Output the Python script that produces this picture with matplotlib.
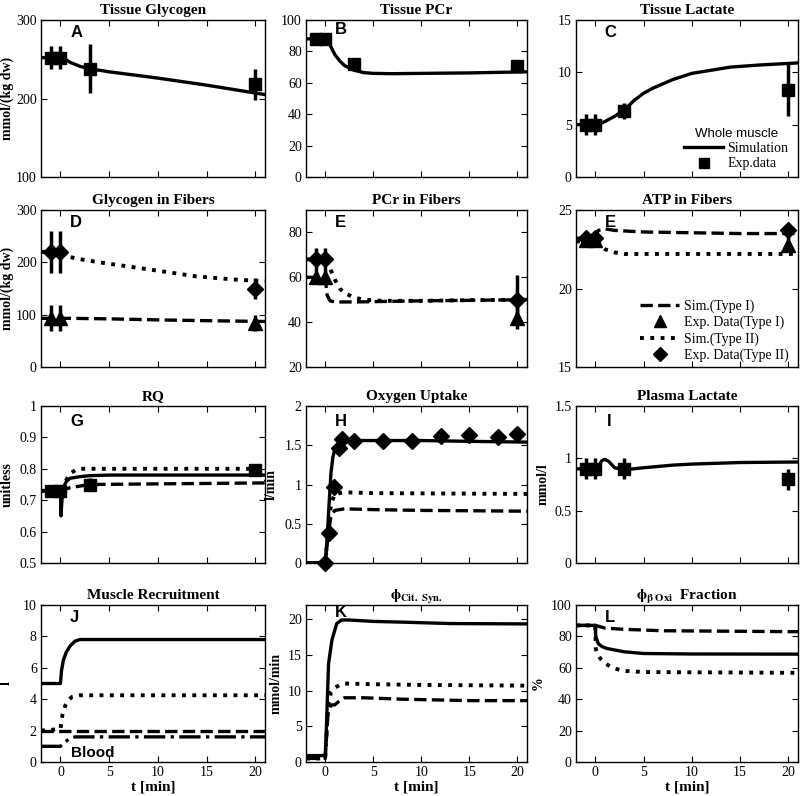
import matplotlib
matplotlib.use('Agg')
import matplotlib.pyplot as plt
import numpy as np

plt.rcParams['font.family'] = 'Liberation Serif'
plt.rcParams['mathtext.fontset'] = 'stix'

# ---- data ----
# A: tissue glycogen
tA_sim = [-2, 0, 0.5, 1, 2, 3, 5, 10, 15, 21]
yA_sim = [252, 252, 250, 246, 241, 238, 234, 226, 217, 205]
tA_exp = [-1, 0, 3, 20]
yA_exp = [252, 252, 238, 218]
eA_exp = [15, 15, 31, 20]

# B: tissue PCr
tB_sim = [-2, 0, 0.5, 1, 1.5, 2, 3, 4, 5, 7, 10, 15, 21]
yB_sim = [88, 88, 84, 78, 74, 71, 68, 66.5, 66, 65.8, 66, 66.3, 67]
tB_exp = [-1, 0, 3, 20]
yB_exp = [88, 88, 72, 71]
eB_exp = [2, 2, 3, 3]

# C: tissue lactate
tC_sim = [-2, 0, 0.5, 1, 2, 3, 4, 5, 6, 8, 10, 12, 14, 17, 21]
yC_sim = [5, 5, 5.1, 5.3, 5.8, 6.4, 7.3, 8.0, 8.5, 9.3, 9.9, 10.2, 10.5, 10.7, 10.9]
tC_exp = [-1, 0, 3, 20]
yC_exp = [5, 5, 6.3, 8.3]
eC_exp = [1, 1, 0.8, 2.5]

# D: glycogen in fibers
tD_sim2 = [-2, 0, 0.5, 1, 2, 4, 7, 10, 14, 18, 21]
yD_sim2 = [220, 220, 214, 210, 206, 200, 192, 184, 173, 167, 164]
tD_sim1 = [-2, 0, 1, 5, 10, 15, 21]
yD_sim1 = [93, 93, 93, 92, 90, 88.5, 87]
tD_exp = [-1, 0, 20]
yD_exp1 = [93, 93, 84]
eD_exp1 = [25, 25, 15]
yD_exp2 = [220, 220, 150]
eD_exp2 = [40, 40, 20]

# E: PCr in fibers
tE_sim2 = [-2, 0, 0.5, 1, 1.5, 2, 3, 4, 6, 10, 15, 21]
yE_sim2 = [68, 68, 64, 59, 55, 53, 51, 50, 49.5, 49.5, 49.8, 50]
tE_sim1 = [-2, 0, 0.2, 0.5, 1, 3, 10, 21]
yE_sim1 = [60, 60, 52, 49.5, 49, 49, 49.5, 50]
tE_exp = [-1, 0, 20]
yE_exp1 = [60, 60, 42]
eE_exp1 = [3, 3, 5]
yE_exp2 = [68, 68, 50]
eE_exp2 = [5, 5, 11]

# F: ATP in fibers
tF_sim1 = [-2, 0, 0.3, 1, 2, 5, 10, 15, 21]
yF_sim1 = [23.2, 23.2, 23.7, 23.8, 23.7, 23.6, 23.55, 23.5, 23.5]
tF_sim2 = [-2, 0, 0.5, 1, 2, 3, 5, 10, 21]
yF_sim2 = [23.0, 23.0, 22.7, 22.5, 22.3, 22.2, 22.2, 22.2, 22.2]
tF_exp = [-1, 0, 20]
yF_exp1 = [23.1, 23.1, 22.8]
eF_exp1 = [0.4, 0.4, 0.5]
yF_exp2 = [23.2, 23.2, 23.7]
eF_exp2 = [0.3, 0.3, 0.3]

# G: RQ
tG_sim = [-2, 0, 0.05, 0.15, 0.3, 0.6, 1, 2, 3, 5, 21]
yG_sim = [0.73, 0.73, 0.65, 0.70, 0.74, 0.76, 0.77, 0.775, 0.778, 0.78, 0.78]
tG_sim2 = [-2, 0, 0.5, 1, 1.5, 2, 3, 21]
yG_sim2 = [0.73, 0.73, 0.76, 0.785, 0.795, 0.80, 0.80, 0.80]
tG_sim1 = [-2, 0, 0.5, 1, 2, 3, 10, 21]
yG_sim1 = [0.73, 0.73, 0.735, 0.74, 0.745, 0.75, 0.752, 0.755]
tG_exp = [-1, 0, 3, 20]
yG_exp = [0.73, 0.73, 0.75, 0.795]
eG_exp = [0.02, 0.02, 0.02, 0.01]

# H: oxygen uptake
tH_sim = [-2, 0, 0.2, 0.4, 0.6, 0.8, 1, 1.5, 2, 5, 10, 15, 21]
yH_sim = [0, 0, 0.3, 0.75, 1.15, 1.35, 1.45, 1.53, 1.56, 1.56, 1.56, 1.55, 1.54]
tH_sim2 = [-2, 0, 0.3, 0.6, 1, 2, 5, 21]
yH_sim2 = [0, 0, 0.4, 0.75, 0.88, 0.9, 0.89, 0.88]
tH_sim1 = [-2, 0, 0.3, 0.6, 1, 2, 5, 10, 21]
yH_sim1 = [0, 0, 0.35, 0.6, 0.67, 0.69, 0.68, 0.67, 0.66]
tH_exp = [0, 0.4, 0.9, 1.4, 1.7, 3, 6, 9, 12, 15, 18, 20]
yH_exp = [0, 0.38, 0.97, 1.47, 1.58, 1.55, 1.56, 1.56, 1.62, 1.63, 1.61, 1.64]
eH_exp = [0.04] * 12

# I: plasma lactate
tI_sim = [-2, 0, 0.3, 0.7, 1.0, 1.4, 2, 3, 5, 8, 10, 15, 21]
yI_sim = [0.9, 0.9, 0.92, 0.98, 0.99, 0.97, 0.91, 0.89, 0.91, 0.935, 0.945, 0.96, 0.965]
tI_exp = [-1, 0, 3, 20]
yI_exp = [0.9, 0.9, 0.9, 0.8]
eI_exp = [0.1, 0.1, 0.1, 0.1]

# J: muscle recruitment
tJ_sim = [-2, 0, 0.1, 0.3, 0.6, 1.0, 1.5, 2, 21]
yJ_sim = [5, 5, 5.8, 6.5, 7.0, 7.4, 7.7, 7.8, 7.8]
tJ_sim2 = [-2, 0, 0.2, 0.5, 0.8, 1.2, 2, 21]
yJ_sim2 = [2.0, 2.1, 3.0, 3.6, 3.95, 4.15, 4.25, 4.25]
tJ_sim1 = [-2, 21]
yJ_sim1 = [2, 2]
tJ_blood = [-2, 0, 0.5, 1, 1.5, 21]
yJ_blood = [1, 1, 1.3, 1.5, 1.6, 1.6]

# K: citrate synthase flux
tK_sim = [-2, 0, 0.1, 0.35, 0.7, 1.2, 1.7, 2.5, 5, 8, 13, 21]
yK_sim = [0.9, 0.9, 4, 13.8, 17.1, 19.4, 19.9, 19.9, 19.7, 19.6, 19.4, 19.35]
tK_sim2 = [-2, 0, 0.3, 0.6, 1, 1.5, 2, 5, 10, 21]
yK_sim2 = [0.5, 0.5, 8, 9.8, 10.4, 10.8, 11, 10.9, 10.8, 10.7]
tK_sim1 = [-2, 0, 0.3, 0.6, 1, 1.5, 2, 4, 8, 15, 21]
yK_sim1 = [0.5, 0.5, 7, 8, 8, 8.6, 9, 9, 8.8, 8.6, 8.6]

# L: beta-oxidation fraction
tL_sim = [-2, 0, 0.05, 0.3, 0.7, 1.2, 3, 5, 10, 21]
yL_sim = [87, 87, 80, 75.5, 73.5, 72.3, 70.2, 69.1, 68.8, 68.7]
tL_sim1 = [-2, 0, 0.3, 1, 3, 7, 21]
yL_sim1 = [87, 87, 86.5, 85.3, 84.5, 83.6, 83]
tL_sim2 = [-2, 0, 0.05, 0.2, 0.5, 1, 1.5, 2, 3, 5, 21]
yL_sim2 = [87, 87, 72, 69, 66, 63, 61, 59.5, 58, 57.3, 56.8]

# ---- layout ----
fig = plt.figure(figsize=(8.0, 7.96), dpi=100)
W, H = 800.0, 796.0
col_x = [(41, 224), (306, 221), (576, 222)]
row_y = [177, 367, 563, 762]
ah = 157


def make_ax(r, c):
    x0, w = col_x[c]
    return fig.add_axes([x0 / W, 1 - row_y[r] / H, w / W, ah / H])


LW = 2.4


def style(ax, title, ylim, yticks, ylabels, letter, lx=0.13, ly=0.92, ylabel=None, ylx=-0.12,
          bottom=False):
    ax.set_xlim(-2, 21)
    ax.set_ylim(*ylim)
    ax.set_xticks([0, 5, 10, 15, 20])
    ax.set_yticks(yticks)
    ax.set_yticklabels(ylabels)
    ax.tick_params(direction='in', top=True, right=True, labelsize=10, length=4, width=0.8, pad=3)
    if not bottom:
        ax.set_xticklabels([])
    else:
        ax.set_xlabel('t [min]', fontsize=11, fontweight='bold', labelpad=1)
    ax.set_title(title, fontsize=11, fontweight='bold', pad=4)
    if ylabel:
        ax.set_ylabel(ylabel, fontsize=10, fontweight='bold')
        ax.yaxis.set_label_coords(ylx, 0.5)
    ax.text(lx, ly, letter, transform=ax.transAxes, fontsize=12, fontweight='bold',
            family='Liberation Sans', ha='left', va='center')
    for s in ax.spines.values():
        s.set_linewidth(1.0)


def exp(ax, t, y, e, marker, ms):
    ax.errorbar(t, y, yerr=e, fmt=marker, color='k', ms=ms, elinewidth=2.5, capsize=0,
                ls='none', clip_on=False, zorder=4)


# A
ax = make_ax(0, 0)
ax.plot(tA_sim, yA_sim, 'k-', lw=LW)
exp(ax, tA_exp, yA_exp, eA_exp, 's', 9)
style(ax, 'Tissue Glycogen', (100, 300), [100, 200, 300], ['100', '200', '300'], 'A',
      ylabel='mmol/(kg dw)', ylx=-0.12)

# B
ax = make_ax(0, 1)
ax.plot(tB_sim, yB_sim, 'k-', lw=LW)
exp(ax, tB_exp, yB_exp, eB_exp, 's', 9)
style(ax, 'Tissue PCr', (0, 100), np.arange(0, 101, 20), [str(v) for v in range(0, 101, 20)], 'B',
      ly=0.94)

# C
ax = make_ax(0, 2)
l1, = ax.plot(tC_sim, yC_sim, 'k-', lw=LW, label='Simulation')
exp(ax, tC_exp, yC_exp, eC_exp, 's', 9)
m1, = ax.plot([], [], 'ks', ms=7, ls='none', label='Exp.data')
style(ax, 'Tissue Lactate', (0, 15), [0, 5, 10, 15], ['0', '5', '10', '15'], 'C')
leg = ax.legend(handles=[l1, m1], loc='lower right', bbox_to_anchor=(1.0, -0.02), frameon=False,
                fontsize=10, title='Whole muscle', handlelength=2.8, handletextpad=0.3,
                labelspacing=0.15, borderpad=0.2)
leg.get_title().set_fontfamily('Liberation Sans')
leg.get_title().set_fontsize(9.5)

# D
ax = make_ax(1, 0)
ax.plot(tD_sim2, yD_sim2, 'k:', lw=LW + 0.4)
ax.plot(tD_sim1, yD_sim1, 'k--', lw=LW)
exp(ax, tD_exp, yD_exp1, eD_exp1, '^', 10)
exp(ax, tD_exp, yD_exp2, eD_exp2, 'D', 8)
style(ax, 'Glycogen in Fibers', (0, 300), [0, 100, 200, 300], ['0', '100', '200', '300'], 'D',
      ylabel='mmol/(kg dw)', ylx=-0.12)

# E
ax = make_ax(1, 1)
ax.plot(tE_sim2, yE_sim2, 'k:', lw=LW + 0.4)
ax.plot(tE_sim1, yE_sim1, 'k--', lw=LW)
exp(ax, tE_exp, yE_exp1, eE_exp1, '^', 10)
exp(ax, tE_exp, yE_exp2, eE_exp2, 'D', 8)
style(ax, 'PCr in Fibers', (20, 90), [20, 40, 60, 80], ['20', '40', '60', '80'], 'E')

# F
ax = make_ax(1, 2)
h1, = ax.plot(tF_sim1, yF_sim1, 'k--', lw=LW, label='Sim.(Type I)')
h3, = ax.plot(tF_sim2, yF_sim2, 'k:', lw=LW + 0.4, label='Sim.(Type II)')
exp(ax, tF_exp, yF_exp1, eF_exp1, '^', 10)
exp(ax, tF_exp, yF_exp2, eF_exp2, 'D', 8)
h2, = ax.plot([], [], 'k^', ms=9, ls='none', label='Exp. Data(Type I)')
h4, = ax.plot([], [], 'kD', ms=7, ls='none', label='Exp. Data(Type II)')
style(ax, 'ATP in Fibers', (15, 25), [15, 20, 25], ['15', '20', '25'], 'E')
ax.legend(handles=[h1, h2, h3, h4], loc='lower right', bbox_to_anchor=(1.0, -0.03), frameon=False,
          fontsize=10, handlelength=2.8, handletextpad=0.3, labelspacing=0.2, borderpad=0.2)

# G
ax = make_ax(2, 0)
ax.plot(tG_sim2, yG_sim2, 'k:', lw=LW + 0.4)
ax.plot(tG_sim1, yG_sim1, 'k--', lw=LW)
ax.plot(tG_sim, yG_sim, 'k-', lw=LW)
exp(ax, tG_exp, yG_exp, eG_exp, 's', 9)
style(ax, 'RQ', (0.5, 1.0), [0.5, 0.6, 0.7, 0.8, 0.9, 1.0], ['0.5', '0.6', '0.7', '0.8', '0.9', '1'],
      'G', ly=0.9, ylabel='unitless', ylx=-0.12)

# H
ax = make_ax(2, 1)
ax.plot(tH_sim2, yH_sim2, 'k:', lw=LW + 0.4)
ax.plot(tH_sim1, yH_sim1, 'k--', lw=LW)
ax.plot(tH_sim, yH_sim, 'k-', lw=LW)
exp(ax, tH_exp, yH_exp, eH_exp, 'D', 8)
style(ax, 'Oxygen Uptake', (0, 2), [0, 0.5, 1, 1.5, 2], ['0', '0.5', '1', '1.5', '2'], 'H',
      ly=0.9, ylabel='l/min', ylx=-0.13)

# I
ax = make_ax(2, 2)
ax.plot(tI_sim, yI_sim, 'k-', lw=LW)
exp(ax, tI_exp, yI_exp, eI_exp, 's', 9)
style(ax, 'Plasma Lactate', (0, 1.5), [0, 0.5, 1, 1.5], ['0', '0.5', '1', '1.5'], 'I',
      lx=0.14, ly=0.9, ylabel='mmol/l', ylx=-0.12)

# J
ax = make_ax(3, 0)
ax.plot(tJ_sim, yJ_sim, 'k-', lw=LW)
ax.plot(tJ_sim2, yJ_sim2, 'k:', lw=LW + 0.4)
ax.plot(tJ_sim1, yJ_sim1, 'k--', lw=LW)
ax.plot(tJ_blood, yJ_blood, 'k-.', lw=LW)
ax.text(1.1, 0.6, 'Blood', fontsize=11, fontweight='bold', family='Liberation Sans',
        ha='left', va='center')
style(ax, 'Muscle Recruitment', (0, 10), [0, 2, 4, 6, 8, 10], ['0', '2', '4', '6', '8', '10'], 'J',
      ylabel='l', ylx=-0.125, bottom=True)

# K
ax = make_ax(3, 1)
ax.plot(tK_sim2, yK_sim2, 'k:', lw=LW + 0.4)
ax.plot(tK_sim1, yK_sim1, 'k--', lw=LW)
ax.plot(tK_sim, yK_sim, 'k-', lw=LW)
style(ax, r'$\mathbf{\phi}_{\mathbf{Cit.\ Syn.}}$', (0, 22), [0, 5, 10, 15, 20],
      ['0', '5', '10', '15', '20'], 'K', ly=0.95, ylabel='mmol/min', ylx=-0.105, bottom=True)

# L
ax = make_ax(3, 2)
ax.plot(tL_sim1, yL_sim1, 'k--', lw=LW)
ax.plot(tL_sim2, yL_sim2, 'k:', lw=LW + 0.4)
ax.plot(tL_sim, yL_sim, 'k-', lw=LW)
style(ax, r'$\mathbf{\phi}_{\mathbf{\beta\ Oxi}}$  Fraction', (0, 100), np.arange(0, 101, 20),
      [str(v) for v in range(0, 101, 20)], 'L', ylabel='%', ylx=-0.14, bottom=True)

fig.savefig('out.png', dpi=100)
